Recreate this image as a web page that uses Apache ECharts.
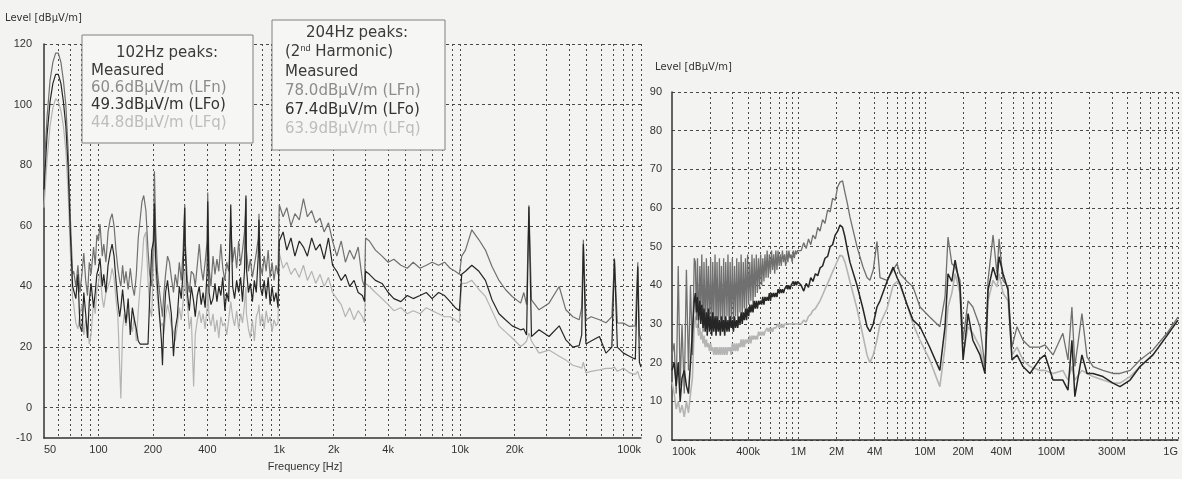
<!DOCTYPE html>
<html>
	<head>
		<meta charset="utf-8">
		<title>Level vs frequency</title>
		<script src="https://cdn.jsdelivr.net/npm/echarts@6.0.0/dist/echarts.min.js"></script>
		<style>
			html, body { margin: 0; padding: 0; background: #f3f3f1; }
			#main { width: 1182px; height: 479px; }
		</style>
	</head>
	<body>
		<div id="main"></div>
		<script type="text/javascript">
			// left chart: 50 Hz - 100 kHz (Hz)
			var freqL = [50,52,54,56,58,60,62,64,66,68,70,72,
				73,75,77,79,81,83,85,87,89,91, 94,96,98,100,102,105,107,110,113,116,
				119,122,125,128,131,133,136,139,142,146, 150,154,158,162,166,170,174,178,183,188,
				192,197,202,204,207,212,218,223,226,229, 235,241,247,253,260,266,273,280,287,294,
				300,302,310,318,326,336,343,352,361,370, 379,389,399,402,409,419,430,441,452,463,
				475,487,500,512,525,539,552,566,581,596, 611,626,642,654,658,675,692,710,728,746,
				765,772,785,805,825,846,868,890,912,935, 959,984,
				1000,1050,1100,1160,1220,1290,1360,1430,1510,1590, 1680,1770,1870,1970,2080,2200,2320,2450,2590,2730, 2880,2960,
				3000,3150,3400,3700,4000,4300,4700,5100,5500,6000, 6500,7000,7600,8200,8800,9400,9900,
				10200,10700,11600,12700,13800,15000,16400,17800,19400,21600, 22500,23300,24000,24800,27300,31000,35300,38400,42000,45500,
				47000,48000,49600,53000,58900,64000,69000,71300,74000,80000, 86300,93000,96000,98000,100000];
			var lfnL = [78,96,108,114,117,117,114,108,100,85,62,44,
				45,40,47,38,44,51,42,37,48,44, 53,47,57,55,60.6,50,54,48,58,62,
				64,60,52,46,42,40,47,41,45,39, 46,40,37,44,56,62,68,70,65,52,
				44,40,60,78,60,45,38,33,30,36, 44,50,48,43,38,44,40,48,42,52,
				67,55,42,38,45,44,40,47,54,46, 42,48,55,71,46,40,50,44,49,45,
				54,46,42,48,45,60,48,53,46,55, 47,52,58,69,52,45,49,43,47,51,
				56,64,47,44,50,45,52,43,48,42, 47,44,
				67,63,66,60,64,62,69,63,65,61, 62.5,58,61,55,50,55,48,52,49,53, 42,40,
				56,55,52,50,48,49,47,46,48,46, 47,48,47,48,46,45,44,
				50,52,58.7,55.4,52,46.6,42,39,36.7,34.5, 38,34,66.8,35.6,32.3,34.5,40,32.3,30,29,
				33,55.4,29,30,29,28,30,49.3,28,27.9, 26.8,27,48,24,22.4];
			var lfoL = [72,90,101,107,110,110,107,101,93,79,57,40,
				40,36,44,27,25,38,31,23,35,41, 33,38,44,46,49.3,40,44,38,47,51,
				54,50,42,35,30,33,39,33,28,36, 24,33,29,26,22,21,21,21,21,21,
				36,52,55,67.4,50,40,30,22,14,25, 38,42,36,31,17,26,30,40,36,45,
				66,52,38,32,40,35,30,37,40,34, 38,33,45,68,38,34,36,41,35,40,
				37,43,32,38,35,67,40,36,42,38, 43,35,45,70,46,38,41,35,42,38,
				50,62,40,37,42,36,43,34,40,35, 38,33,
				55,58,52,56,50,55,53,50,56,52, 54,49,56,47,45,42,44,40,42,38, 37,35,
				45,44,42,41,38,36,35,37,36,37, 38,36,38,37,35,33,32,
				44,45,47,45,42,35.6,31,29,27,25.7, 26,24,66.3,23.5,25.7,23.5,27,22.4,20,20.5,
				24,54,21,22,23.5,18,20,48.8,20,18, 17,16,46.6,15,13.4];
			var lfqL = [66,82,93,99,102,101,98,93,85,71,51,36,
				34,28,26,31,34,24,29,27,21,24, 35,31,39,41,44.8,36,33,38,40,42,
				46,43,36,30,14,3,26,31,27,32, 28,25,30,22,32,40,47,56,58,42,
				33,30,50,63.9,45,36,29,27,28,24, 30,34,31,27,25,22,27,33,29,35,
				45,40,35,26,30,7,24,29,32,28, 31,26,33,40,30,27,31,25,29,23,
				30,27,28,24,29,35,30,27,32,26, 31,28,34,40,31,26,23,29,22,30,
				32,34,27,31,26,32,28,30,25,29, 27,28,
				51,46,48,44,46,43,47,42,45,41, 44,40,43,38,36,34,30,33,29,32, 30,28,
				41,40,38,36,34,32,33,31,32,31, 33,32,31,30,30,29,28,
				41,41,42,39,36.7,32,27,25,23,20.2, 21,22,24.6,22,18,19,17,15.7,14,13.4,
				13,15,11.5,12,12.5,13,13,13.4,12,13, 11.5,11,12,10,9.2];

			// right chart: 100 kHz - 1 GHz (Hz)
			var freqR = [100e3,104e3,108e3,112e3,116e3,120e3,125e3,130e3,135e3,140e3,145e3,150e3,
				153e3,156e3,159e3,162e3,166e3,169e3,172e3,176e3,179e3,183e3, 187e3,190e3,194e3,198e3,202e3,206e3,210e3,214e3,219e3,223e3,
				227e3,232e3,237e3,241e3,246e3,251e3,256e3,261e3,266e3,272e3, 277e3,283e3,288e3,294e3,300e3,306e3,312e3,318e3,325e3,331e3,
				338e3,345e3,352e3,359e3,366e3,373e3,381e3,388e3,396e3,404e3, 412e3,420e3,429e3,437e3,446e3,455e3,464e3,473e3,483e3,492e3,
				502e3,512e3,522e3,533e3,543e3,554e3,565e3,577e3,588e3,600e3, 612e3,624e3,637e3,649e3,662e3,676e3,689e3,703e3,717e3,731e3,
				746e3,761e3,776e3,792e3,807e3,824e3,840e3,857e3,874e3,891e3, 909e3,927e3,946e3,965e3,984e3,
				1.05e6,1.1e6,1.15e6,1.2e6,1.25e6,1.3e6,1.36e6,1.42e6,1.48e6,1.55e6, 1.62e6,1.7e6,1.78e6,1.86e6,1.95e6,2.04e6,2.13e6,2.23e6,2.33e6,2.44e6, 2.55e6,
				2.9e6,3.23e6,3.48e6,3.67e6,3.9e6,4.17e6,4.41e6,5.01e6,5.6e6,6.01e6, 6.35e6,7.22e6,8.04e6,9.13e6,
				10.9e6,13.1e6,14.4e6,15.2e6,16.3e6,17.3e6,18.9e6,20e6,21.9e6,23.9e6, 27.2e6,29.8e6,31.5e6,34.5e6,37.1e6,38.5e6,41.4e6,45.3e6,48.7e6,53.4e6,
				59.5e6,67.6e6,81.1e6,88.9e6,102.8e6,123e6,135e6,145e6,153e6,174e6, 191e6,213e6,255e6,306e6,348e6,418e6,501e6,634e6,818e6,1e9];
			var lfnR = [22,25,12,45,14,30,12,44,18,40,22,47,
				46,31,47,29,45,33,48,28,46,30, 47,32,45,29,47,28,46,31,48,30,
				46,29,47,31,45,28,47,30,46,32, 48,29,46,31,47,30,45,32,47,31,
				46,33,48,32,46,34,47,33,48,35, 46,36,48,35,47,37,48,38,47,39,
				48,40,47,41,48,42,49,42,48,43, 49,44,48,43,49,44,49,45,48,45,
				49,46,48,45,49,46,49,47,48,46, 49,47,49,48,49,
				49,51,49.5,52,50.5,53,52,55,54,57, 56,59.5,59,62.5,62,65.5,66.7,67,64,61, 57.7,
				50,44.8,42,41.3,44,51.3,42,41.3,44,45.6, 43,41,39.6,34.4,
				31.8,29.3,37,52.5,45.6,44.8,41.3,25.8,36,34.4, 29.3,19,41.3,53,43,52,41.3,39.6,24,29.3,
				25.8,24,24,24.6,22,27.6,20.7,34.4,19,32.7, 21.5,19,18,17.2,17.2,18,20.7,23.3,27.6,31.8];
			var lfoR = [18,20,14,20,10,16,18,14,12,20,28,36,
				38,33,37,31,36,30,35,29,34,28, 33,27,34,28,32,27,33,28,32,27,
				32,28,31,27,32,28,31,27,32,28, 31,28,32,29,31,28,32,29,31,29,
				32,30,33,30,33,31,34,31,34,32, 35,33,35,33,36,34,36,34,36,35,
				36,35,37,35,37,36,37,36,38,36, 38,37,38,37,38,37,39,38,39,38,
				39,38,39,39,40,39,40,39,40,40, 41,40,41,40,41,
				40,38.5,40.5,39.5,42,41,43,42.5,44.5,45, 47,47.5,50,50.5,53,54,55.6,55,52.5,49, 46,
				40,34,29.3,28,30,34.4,36,41,44.7,42, 40.4,35,31,29.3,
				24,18,29.3,43,41,46.5,39.6,20.7,32.7,25.8, 22,17.2,38.8,44.7,41.3,47.4,43,38.8,20.7,22,
				19,17.2,21,22,15.5,15.5,12.9,25.8,11.2,22, 17.2,17.2,16.4,14.7,13.8,15.5,19,22,27,31];
			var lfqR = [15,12,8,10,7,9,6,10,7,12,16,30,
				32,29,30,27,29,26,28,25,27,24, 26,24,25,23,25,23,24,22,24,22,
				24,22,24,22,24,22,24,22,24,22, 24,23,24,22,25,23,25,23,25,23,
				25,24,26,24,26,24,26,25,26,25, 27,25,27,26,27,26,27,26,28,27,
				28,27,28,27,28,28,29,28,29,28, 29,28,29,29,29,29,30,29,30,29,
				30,29,30,30,30,30,30,30,30,30, 30,30,30,30,30,
				30,31,30.5,32,32.5,33.5,34,35,36,37.5, 39,40.5,42,43.5,45,46.5,47.8,47.5,46,43.5, 41,
				34,27,22,20,22,25.8,30,34,40,41, 40,35,30,25.8,
				20.7,13.8,24,34.4,38,43,38,22,29.3,27.6, 24,18,36,41.3,39.6,43,38,36,22,24,
				20.7,19,18,18,17.2,18,15.5,19,15.5,18, 17.2,16.4,15.5,14.7,14.7,16.4,19,22,27,31];

			// ticks / grid lines
			var leftGridVals = [60,70,80,90,100,200,300,400,500,600,700,800,900,
				1000,2000,3000,4000,5000,6000,7000,8000,9000,
				10000,20000,30000,40000,50000,60000,70000,80000,90000,100000];
			var leftTickVals = [50,100,200,400,1000,2000,4000,10000,20000,100000];
			var leftTickText = ['50','100','200','400','1k','2k','4k','10k','20k','100k'];
			var rightGridVals = [200e3,300e3,400e3,500e3,600e3,700e3,800e3,900e3,
				1e6,2e6,3e6,4e6,5e6,6e6,7e6,8e6,9e6,
				10e6,20e6,30e6,40e6,50e6,60e6,70e6,80e6,90e6,
				100e6,200e6,300e6,400e6,500e6,600e6,700e6,800e6,900e6,1e9];
			var rightTickVals = [100e3,400e3,1e6,2e6,4e6,10e6,20e6,40e6,100e6,300e6,1e9];
			var rightTickText = ['100k','400k','1M','2M','4M','10M','20M','40M','100M','300M','1G'];
			var leftLevelLabels = [-10,0,20,40,60,80,100,120];
			var leftLevelGrid = [0,20,40,60,80,100,120];

			var colN = '#707070', colO = '#262626', colQ = '#b4b4b4';

			function pairs(xs, ys) {
				return xs.map(function (x, i) { return [x, ys[i]]; });
			}
			function tickName(vals, texts) {
				return function (v) {
					for (var i = 0; i < vals.length; i++) {
						if (Math.abs(vals[i] - v) / vals[i] < 1e-6) return texts[i];
					}
					return '';
				};
			}

			var vGrid = { show: true, lineStyle: { color: '#4a4a4a', type: [2, 3], width: 1 } };
			var hGrid = { show: true, lineStyle: { color: '#4a4a4a', type: [3, 3], width: 1 } };
			// x 轴线不要跟着 y=0 走
			var axisLine = { show: true, onZero: false, lineStyle: { color: '#333', width: 1.5 } };
			var labelFont = { color: '#333', fontSize: 11, fontFamily: 'Liberation Sans' };
			var boxFont = '15px "DejaVu Sans"';

			var myChart = echarts.init(document.getElementById('main'));
			var option = {
				animation: false,
				backgroundColor: '#f3f3f1',
				grid: [
					{ left: 44, right: 541, top: 44, bottom: 41 },
					{ left: 672, right: 4, top: 92, bottom: 39 }
				],
				xAxis: [
					{
						gridIndex: 0, type: 'log', logBase: 10, min: 50, max: 100000,
						axisLine: axisLine,
						axisTick: { show: false, customValues: leftGridVals },
						axisLabel: Object.assign({
							customValues: leftTickVals, margin: 6,
							alignMinLabel: 'left', alignMaxLabel: 'right',
							formatter: tickName(leftTickVals, leftTickText)
						}, labelFont),
						splitLine: vGrid
					},
					{
						gridIndex: 1, type: 'log', logBase: 10, min: 100e3, max: 1e9,
						axisLine: axisLine,
						axisTick: { show: false, customValues: rightGridVals },
						axisLabel: Object.assign({
							customValues: rightTickVals, margin: 6,
							alignMinLabel: 'left', alignMaxLabel: 'right',
							formatter: tickName(rightTickVals, rightTickText)
						}, labelFont),
						splitLine: vGrid
					}
				],
				yAxis: [
					{
						gridIndex: 0, type: 'value', min: -10, max: 120,
						axisLine: axisLine,
						axisTick: { show: false, customValues: leftLevelGrid },
						axisLabel: Object.assign({ customValues: leftLevelLabels, margin: 12 }, labelFont),
						splitLine: hGrid
					},
					{
						gridIndex: 1, type: 'value', min: 0, max: 90, interval: 10,
						axisLine: axisLine,
						axisTick: { show: false },
						axisLabel: Object.assign({ margin: 10 }, labelFont),
						splitLine: hGrid
					}
				],
				series: [
					{ name: 'LFq', type: 'line', xAxisIndex: 0, yAxisIndex: 0, showSymbol: false, clip: true,
						lineStyle: { color: colQ, width: 1.2 }, data: pairs(freqL, lfqL) },
					{ name: 'LFn', type: 'line', xAxisIndex: 0, yAxisIndex: 0, showSymbol: false, clip: true,
						lineStyle: { color: colN, width: 1.2 }, data: pairs(freqL, lfnL) },
					{ name: 'LFo', type: 'line', xAxisIndex: 0, yAxisIndex: 0, showSymbol: false, clip: true,
						lineStyle: { color: colO, width: 1.2 }, data: pairs(freqL, lfoL) },
					{ name: 'LFq', type: 'line', xAxisIndex: 1, yAxisIndex: 1, showSymbol: false, clip: true,
						lineStyle: { color: colQ, width: 1.6 }, data: pairs(freqR, lfqR) },
					{ name: 'LFn', type: 'line', xAxisIndex: 1, yAxisIndex: 1, showSymbol: false, clip: true,
						lineStyle: { color: colN, width: 1.3 }, data: pairs(freqR, lfnR) },
					{ name: 'LFo', type: 'line', xAxisIndex: 1, yAxisIndex: 1, showSymbol: false, clip: true,
						lineStyle: { color: colO, width: 1.5 }, data: pairs(freqR, lfoR) }
				],
				graphic: [
					{ type: 'text', x: 5, y: 18, style: { text: 'Level [dBµV/m]', fill: '#333',
						font: '10px "DejaVu Sans"', textVerticalAlign: 'middle' } },
					{ type: 'text', x: 655, y: 67, style: { text: 'Level [dBµV/m]', fill: '#333',
						font: '10px "DejaVu Sans"', textVerticalAlign: 'middle' } },
					{ type: 'text', x: 305, y: 467, style: { text: 'Frequency [Hz]', fill: '#333',
						font: '11px "Liberation Sans"', textAlign: 'center', textVerticalAlign: 'middle' } },
					// 102 Hz 的说明框
					{ type: 'group', x: 82, y: 35, z: 100, children: [
						{ type: 'rect', z: 100, shape: { x: 0, y: 0, width: 171, height: 108 },
							style: { fill: '#f6f6f5', stroke: '#808080', lineWidth: 1 } },
						{ type: 'text', z: 101, x: 85, y: 18, style: { text: '102Hz peaks:', fill: '#3a3a3a',
							font: boxFont, textAlign: 'center', textVerticalAlign: 'middle' } },
						{ type: 'text', z: 101, x: 9, y: 36, style: { text: 'Measured', fill: '#3a3a3a',
							font: boxFont, textVerticalAlign: 'middle' } },
						{ type: 'text', z: 101, x: 9, y: 53, style: { text: '60.6dBµV/m (LFn)', fill: '#8c8c8c',
							font: boxFont, textVerticalAlign: 'middle' } },
						{ type: 'text', z: 101, x: 9, y: 70, style: { text: '49.3dBµV/m (LFo)', fill: '#333',
							font: boxFont, textVerticalAlign: 'middle' } },
						{ type: 'text', z: 101, x: 9, y: 88, style: { text: '44.8dBµV/m (LFq)', fill: '#bdbdbd',
							font: boxFont, textVerticalAlign: 'middle' } }
					] },
					// 204 Hz 的说明框
					{ type: 'group', x: 272, y: 20, z: 100, children: [
						{ type: 'rect', z: 100, shape: { x: 0, y: 0, width: 173, height: 130 },
							style: { fill: '#f6f6f5', stroke: '#808080', lineWidth: 1 } },
						{ type: 'text', z: 101, x: 85, y: 13, style: { text: '204Hz peaks:', fill: '#3a3a3a',
							font: boxFont, textAlign: 'center', textVerticalAlign: 'middle' } },
						{ type: 'text', z: 101, x: 13, y: 32, style: {
							text: '(2{sup|nd} Harmonic)', fill: '#3a3a3a', font: boxFont,
							textVerticalAlign: 'middle',
							rich: { sup: { fontSize: 9, verticalAlign: 'top', fill: '#3a3a3a', padding: [0, 0, 6, 0] } } } },
						{ type: 'text', z: 101, x: 13, y: 52, style: { text: 'Measured', fill: '#3a3a3a',
							font: boxFont, textVerticalAlign: 'middle' } },
						{ type: 'text', z: 101, x: 13, y: 71, style: { text: '78.0dBµV/m (LFn)', fill: '#8c8c8c',
							font: boxFont, textVerticalAlign: 'middle' } },
						{ type: 'text', z: 101, x: 13, y: 90, style: { text: '67.4dBµV/m (LFo)', fill: '#333',
							font: boxFont, textVerticalAlign: 'middle' } },
						{ type: 'text', z: 101, x: 13, y: 109, style: { text: '63.9dBµV/m (LFq)', fill: '#bdbdbd',
							font: boxFont, textVerticalAlign: 'middle' } }
					] }
				]
			};

			option && myChart.setOption(option);
		</script>
	</body>
</html>
